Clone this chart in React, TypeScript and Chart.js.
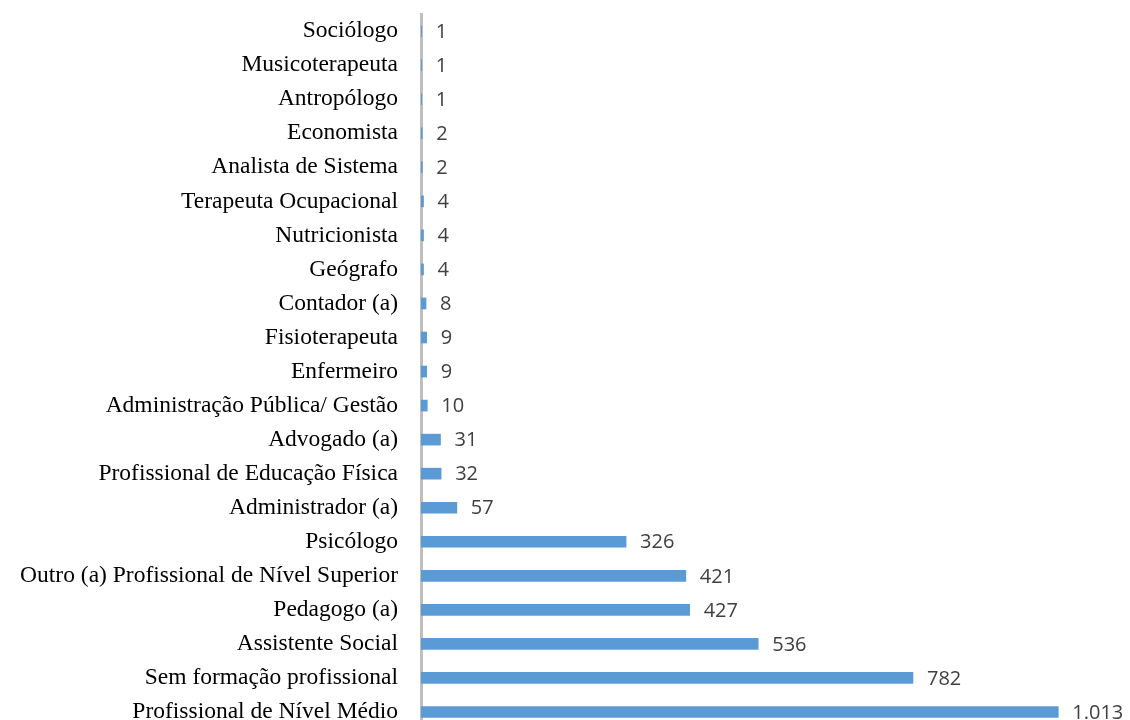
import React, { useEffect, useRef } from "react";
import { Chart, registerables } from "chart.js";

Chart.register(...registerables);

const categories: string[] = [
  "Sociólogo",
  "Musicoterapeuta",
  "Antropólogo",
  "Economista",
  "Analista de Sistema",
  "Terapeuta Ocupacional",
  "Nutricionista",
  "Geógrafo",
  "Contador (a)",
  "Fisioterapeuta",
  "Enfermeiro",
  "Administração Pública/ Gestão",
  "Advogado (a)",
  "Profissional de Educação Física",
  "Administrador (a)",
  "Psicólogo",
  "Outro (a) Profissional de Nível Superior",
  "Pedagogo (a)",
  "Assistente Social",
  "Sem formação profissional",
  "Profissional de Nível Médio",
];

const values: number[] = [1, 1, 1, 2, 2, 4, 4, 4, 8, 9, 9, 10, 31, 32, 57, 326, 421, 427, 536, 782, 1013];

const fmt = new Intl.NumberFormat("pt-BR");

const valueLabels = {
  id: "valueLabels",
  afterDraw(chart: any) {
    const ctx = chart.ctx;
    const meta = chart.getDatasetMeta(0);
    ctx.save();
    ctx.font = '20px "Open Sans"';
    ctx.fillStyle = "#404040";
    ctx.textAlign = "left";
    ctx.textBaseline = "middle";
    meta.data.forEach((el: any, i: number) => {
      ctx.fillText(fmt.format(values[i]), el.x + 14, el.y + 1);
    });
    ctx.restore();
  },
};

export default function App() {
  const ref = useRef<HTMLCanvasElement | null>(null);
  useEffect(() => {
    if (!ref.current) return;
    const chart = new Chart(ref.current, {
      type: "bar",
      data: {
        labels: categories,
        datasets: [
          {
            data: values,
            backgroundColor: "#5b9bd5",
            borderWidth: 0,
            barThickness: 11,
          },
        ],
      },
      options: {
        indexAxis: "y",
        responsive: false,
        animation: false,
        devicePixelRatio: 1,
        layout: { padding: { top: 14, bottom: 16, left: 0, right: 0 } },
        plugins: {
          legend: { display: false },
          tooltip: { enabled: false },
        },
        scales: {
          x: {
            display: false,
            min: 0,
            max: 1127,
          },
          y: {
            z: 1,
            afterFit: (scale: any) => {
              scale.width = 421;
            },
            grid: {
              display: true,
              drawOnChartArea: false,
              drawTicks: true,
              tickLength: 23,
              color: "rgba(0,0,0,0)",
            },
            border: { display: true, color: "#bfbfbf", width: 3 },
            ticks: {
              padding: 0,
              color: "#000000",
              font: { family: '"Liberation Serif", "Times New Roman", serif', size: 23.5 },
              autoSkip: false,
            },
          },
        },
      },
      plugins: [valueLabels],
    });
    return () => chart.destroy();
  }, []);

  return (
    <div
      style={{
        position: "fixed",
        left: 0,
        top: 0,
        width: 1130,
        height: 720,
        overflow: "hidden",
        background: "#ffffff",
      }}
    >
      <canvas ref={ref} width={1130} height={745} style={{ display: "block" }} />
    </div>
  );
}
